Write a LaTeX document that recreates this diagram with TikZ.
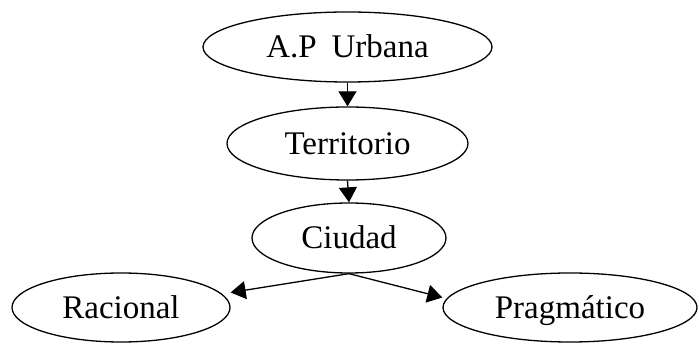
\documentclass[tikz,border=0pt]{standalone}
\usepackage{fontspec}
\setmainfont{Liberation Serif}
\usetikzlibrary{shapes.geometric,arrows.meta}
\begin{document}
\begin{tikzpicture}[x=1pt,y=-1pt,
  concept/.style={draw,ellipse,line width=1.3pt,inner sep=0pt,
    font=\fontsize{33}{36}\selectfont,text height=22pt,text depth=0pt},
  link/.style={line width=1.3pt,-{Triangle[length=15pt,width=18pt]}}]
  \useasboundingbox (0,0) rectangle (699,344);
  % concept ellipses
  \node[concept,minimum width=289pt,minimum height=70pt] (ap) at (347.5,47) {A.P\hspace{0.45em}Urbana};
  \node[concept,minimum width=241pt,minimum height=73pt] (terr) at (347.5,143.5) {Territorio};
  \node[concept,minimum width=194pt,minimum height=70pt] (ciu) at (349,238) {Ciudad};
  \node[concept,minimum width=218pt,minimum height=69pt] (rac) at (121,307.5) {Racional};
  \node[concept,minimum width=254pt,minimum height=69pt] (prag) at (570,307.5) {Pragmático};
  % hierarchy links
  \draw[link] (ap.south) -- (terr.north);
  \draw[link] (terr.south) -- (ciu.north);
  \draw[link] (ciu.south) -- ([yshift=15pt]rac.east);
  \draw[link] (ciu.south) -- ([yshift=10pt]prag.west);
\end{tikzpicture}
\end{document}
